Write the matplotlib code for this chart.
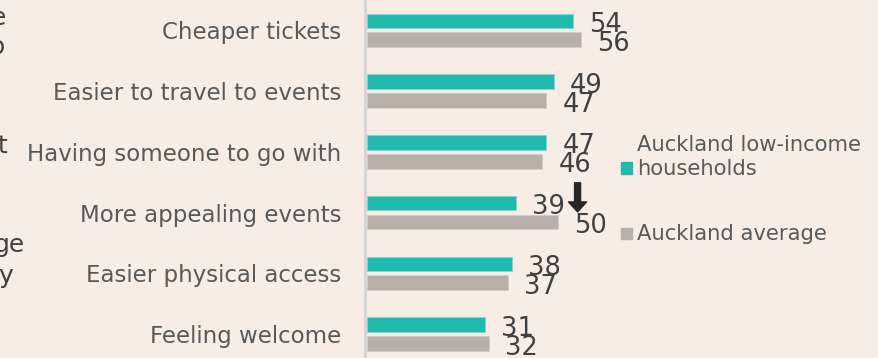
import numpy as np
import matplotlib
matplotlib.use("Agg")
import matplotlib.pyplot as plt
from matplotlib.patches import Rectangle

plt.rcParams["font.family"] = ["DejaVu Sans"]

# Data
categories = [
    "Cheaper tickets",
    "Easier to travel to events",
    "Having someone to go with",
    "More appealing events",
    "Easier physical access",
    "Feeling welcome",
]
low_income = [54, 49, 47, 39, 38, 31]
auckland_avg = [56, 47, 46, 50, 37, 32]
series_names = ["Auckland low-income\nhouseholds", "Auckland average"]

# Styling
BG = "#F8EDE4"
TEAL = "#21BAAE"
GREY = "#B9AFAA"
LABEL_C = "#595959"
VALUE_C = "#404040"

W, H = 879, 358
fig = plt.figure(figsize=(W / 100, H / 100), dpi=100)
fig.patch.set_facecolor(BG)

ax = fig.add_axes([367 / W, 0, 512 / W, 1])
ax.set_facecolor(BG)

pos = np.arange(len(categories))
off = 0.156
bh = 0.24
ax.barh(pos - off, low_income, height=bh, color=TEAL, edgecolor="#7fd6cd", linewidth=0.6)
ax.barh(pos + off, auckland_avg, height=bh, color=GREY, edgecolor="#d3cbc6", linewidth=0.6)

ax.set_xlim(0, 512 / 3.815)
ax.set_ylim(5.395, -0.499)

for s in ["top", "right", "bottom"]:
    ax.spines[s].set_visible(False)
ax.spines["left"].set_color("#D6D3D0")
ax.spines["left"].set_linewidth(2)
ax.spines["left"].set_position(("outward", 1.5))

ax.set_xticks([])
ax.set_yticks(pos)
ax.set_yticklabels(categories)
ax.tick_params(axis="y", length=0, pad=17, labelsize=16.5, labelcolor=LABEL_C)

# Value labels
for p, a, b in zip(pos, low_income, auckland_avg):
    ax.annotate(str(a), xy=(a, p - off), xytext=(11.5, -8), textcoords="offset points",
                ha="left", va="baseline", fontsize=18.5, color=VALUE_C)
    ax.annotate(str(b), xy=(b, p + off), xytext=(11.5, -8), textcoords="offset points",
                ha="left", va="baseline", fontsize=18.5, color=VALUE_C)

# Decline marker for "More appealing events"
ax.annotate("", xy=(55.2, 2.99), xytext=(55.2, 2.51),
            arrowprops=dict(arrowstyle="simple,head_length=0.72,head_width=1.3,tail_width=0.43",
                            mutation_scale=10, color="#262626", shrinkA=0, shrinkB=0))

# Legend
fig.patches.append(Rectangle((621 / W, 1 - 173.5 / H), 11 / W, 11 / H,
                             transform=fig.transFigure, color=TEAL))
fig.patches.append(Rectangle((621 / W, 1 - 239 / H), 11 / W, 11 / H,
                             transform=fig.transFigure, color=GREY))
fig.text(637 / W, 1 - 175 / H, series_names[0], fontsize=15.2, color=LABEL_C,
         ha="left", va="baseline", linespacing=1.25)
fig.text(637 / W, 1 - 240 / H, series_names[1], fontsize=15.2, color=LABEL_C,
         ha="left", va="baseline")

# Edge of neighbouring text block
frag = [("e", -9, 25), ("o", -10, 54), ("t", -3, 153), ("ge", -6, 252), ("y", -2, 283)]
for s, x, y in frag:
    fig.text(x / W, 1 - y / H, s, fontsize=18, color=VALUE_C, ha="left", va="baseline")

fig.savefig("out.png", dpi=100, facecolor=BG)
